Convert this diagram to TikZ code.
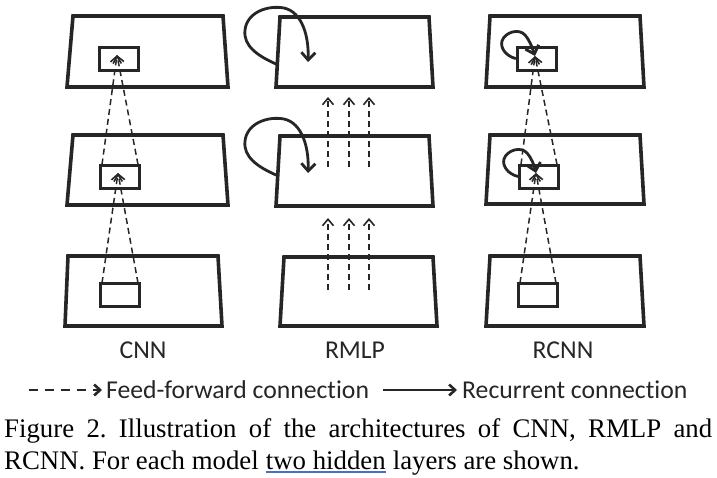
\documentclass[tikz,border=0pt]{standalone}
\usepackage{fontspec}
\setmainfont{Liberation Serif}
\newfontfamily\calfont[Ligatures=NoCommon]{Carlito}
\usetikzlibrary{arrows.meta}
\definecolor{ink}{HTML}{262626}
\definecolor{ulblue}{HTML}{4A6FC4}
\frenchspacing
\begin{document}
\begin{tikzpicture}[x=1pt,y=-1pt,
  plane/.style={draw=ink, line width=3.6pt, line join=miter},
  ibox/.style={draw=ink, line width=3pt, minimum width=39pt, minimum height=23pt, inner sep=0pt},
  ff/.style={draw=ink, line width=1.5pt, dash pattern=on 6pt off 4pt,
     -{Straight Barb[length=6.5pt,width=11pt,line width=1.6pt]}},
  rec/.style={draw=ink, line width=2.8pt, line cap=round,
     -{Straight Barb[length=7.5pt,width=14pt,line width=2.8pt]}},
  lbl/.style={font=\calfont\fontsize{25.7}{30}\selectfont, inner sep=0pt, text=ink},
  captext/.style={font=\fontsize{26.8}{32}\selectfont, inner sep=0pt, anchor=base west},
]
\useasboundingbox (0,0) rectangle (717,477);
% ---------- CNN ----------
\draw[plane] (73,16) -- (223,16) -- (228,87) -- (67,87) -- cycle;
\draw[plane] (73,135) -- (223,135) -- (228,205) -- (67,205) -- cycle;
\draw[plane] (68,256) -- (218,256) -- (222,326) -- (65,326) -- cycle;
\node[ibox] (a1) at (118.5,58.5) {};
\node[ibox] (a2) at (120,176.5) {};
\node[ibox] (a3) at (120,295) {};
\coordinate (a1t) at (117,55);
\coordinate (a2t) at (118,173);
\draw[ff] ([xshift=3pt,yshift=-1pt]a3.north west) -- (a2t);
\draw[ff] ([xshift=-3pt,yshift=-1pt]a3.north east) -- (a2t);
\draw[ff] ([xshift=3pt,yshift=-1pt]a2.north west) -- (a1t);
\draw[ff] ([xshift=-3pt,yshift=-1pt]a2.north east) -- (a1t);
% ---------- RMLP ----------
\draw[plane] (280,17) -- (429,17) -- (433,87) -- (276,87) -- cycle;
\draw[plane] (280,136) -- (429,136) -- (433,206) -- (276,206) -- cycle;
\draw[plane] (284,257) -- (433,257) -- (437,326) -- (280,326) -- cycle;
\foreach \x [count=\i] in {328,349,369}{
  \coordinate (bl\i) at (\x,290);
  \coordinate (bm\i) at (\x,218);
  \coordinate (bu\i) at (\x,167);
  \coordinate (bt\i) at (\x,97);
  \draw[ff] (bl\i) -- (bm\i);
  \draw[ff] (bu\i) -- (bt\i);
}
\coordinate (r1s) at (276,64);
\coordinate (r1e) at (308,62);
\draw[rec] (r1s) .. controls (258,56) and (243,46) .. (245,30)
   .. controls (247,12) and (268,5) .. (284,8)
   .. controls (302,12) and (309,36) .. (r1e);
\coordinate (r2s) at (276,175);
\coordinate (r2e) at (308,173);
\draw[rec] (r2s) .. controls (258,167) and (243,157) .. (245,141)
   .. controls (247,123) and (268,116) .. (284,119)
   .. controls (302,123) and (309,147) .. (r2e);
% ---------- RCNN ----------
\draw[plane] (490,16) -- (640,16) -- (644,87) -- (486,87) -- cycle;
\draw[plane] (490,135) -- (640,135) -- (644,204) -- (486,204) -- cycle;
\draw[plane] (490,256) -- (640,256) -- (644,326) -- (486,326) -- cycle;
\node[ibox] (c1) at (536.5,58.5) {};
\node[ibox] (c2) at (539,176.5) {};
\node[ibox] (c3) at (538,295) {};
\coordinate (c1t) at (535,56);
\coordinate (c2t) at (536,173);
\draw[ff] ([xshift=3pt,yshift=-1pt]c3.north west) -- (c2t);
\draw[ff] ([xshift=-3pt,yshift=-1pt]c3.north east) -- (c2t);
\draw[ff] ([xshift=3pt,yshift=-1pt]c2.north west) -- (c1t);
\draw[ff] ([xshift=-3pt,yshift=-1pt]c2.north east) -- (c1t);
\draw[rec] (c1.west) .. controls (506,56) and (500,48) .. (502,41)
   .. controls (505,32) and (519,28) .. (525,35)
   .. controls (530,41) and (532,47) .. (c1t);
\draw[rec] (c2.west) .. controls (508,174) and (502,166) .. (504,159)
   .. controls (507,150) and (521,146) .. (527,153)
   .. controls (532,159) and (534,165) .. (c2t);
% ---------- labels ----------
\node[lbl, anchor=base] (lcnn) at (143,358) {CNN};
\node[lbl, anchor=base] (lrmlp) at (355,358) {RMLP};
\node[lbl, anchor=base] (lrcnn) at (563,358) {RCNN};
% ---------- legend ----------
\node[lbl, anchor=base west] (lff) at (106,398) {Feed-forward connection};
\node[lbl, anchor=base west] (lrc) at (462,398) {Recurrent connection};
\coordinate (ffs) at (29,390);
\coordinate (rcs) at (383,390);
\draw[draw=ink, line width=1.8pt, dash pattern=on 9pt off 7pt,
  -{Straight Barb[length=6pt,width=11pt,line width=2.6pt]}] (ffs) -- ([xshift=-4pt]ffs -| lff.west);
\draw[draw=ink, line width=2.2pt,
  -{Straight Barb[length=6pt,width=11pt,line width=2.6pt]}] (rcs) -- ([xshift=-5pt]rcs -| lrc.west);
% ---------- caption ----------
\node[captext] (cap1) at (4,437) {\makebox[708pt][s]{Figure 2. Illustration of the architectures of CNN, RMLP and}};
\node[captext] (cap2a) at (4,469) {RCNN. For each model};
\node[captext] (cap2b) at ([xshift=6.7pt]cap2a.base east) {two hidden};
\node[captext] (cap2c) at ([xshift=6.7pt]cap2b.base east) {layers are shown.};
\draw[ulblue, line width=1.5pt] ([yshift=-3pt]cap2b.base west) -- ([yshift=-3pt]cap2b.base east);
\end{tikzpicture}
\end{document}
